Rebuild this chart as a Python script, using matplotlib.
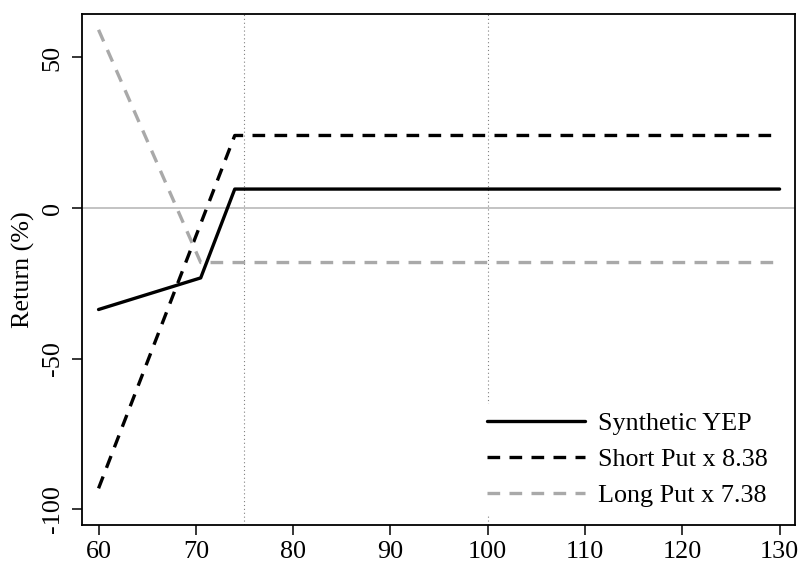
import matplotlib
matplotlib.use("Agg")
import matplotlib.pyplot as plt

# Data
price = [60, 70.5, 74, 130]
synthetic_yep = [-33.7, -23.2, 6.3, 6.3]
short_put = [-93.1, -5.2, 24.1, 24.1]
long_put = [59.2, -18.1, -18.1, -18.1]
labels = ["Synthetic YEP", "Short Put x 8.38", "Long Put x 7.38"]
x_ticks = [60, 70, 80, 90, 100, 110, 120, 130]
y_ticks = [50, 0, -50, -100]
y_tick_labels = ["50", "0", "-50", "-100"]
vlines = [75, 100]

plt.rcParams['font.family'] = ['Liberation Serif', 'DejaVu Serif']
FS = 18.8

fig = plt.figure(figsize=(8.04, 5.64), dpi=100)
ax = fig.add_axes([0.102, 0.069, 0.887, 0.907])

ax.axhline(0, color='#bebebe', lw=1.3, zorder=1)
for v in vlines:
    ax.axvline(v, color='#808080', lw=0.8, ls=(0, (1, 2.5)), zorder=1)

LW = 2.4
ax.plot(price, synthetic_yep, color='black', lw=LW, solid_capstyle='round',
        solid_joinstyle='round', label=labels[0], zorder=3)
ax.plot(price, short_put, color='black', lw=LW, dashes=(3.8, 2.8),
        dash_capstyle='butt', label=labels[1], zorder=3)
ax.plot(price, long_put, color='#a9a9a9', lw=LW, dashes=(3.8, 2.8),
        dash_capstyle='butt', label=labels[2], zorder=3)

ax.set_xlim(58.3, 131.6)
ax.set_ylim(-105.3, 64.6)
ax.set_xticks(x_ticks)
ax.set_yticks(y_ticks)
ax.set_yticklabels(y_tick_labels, rotation=90, va='center')
ax.tick_params(axis='both', labelsize=FS, length=7.2, width=1.1, pad=4, color='black')
ax.tick_params(axis='y', pad=6)
for s in ax.spines.values():
    s.set_linewidth(1.3)
ax.set_ylabel("Return (%)", fontsize=FS, labelpad=5)

leg = ax.legend(loc='lower right', bbox_to_anchor=(0.972, 0.02), fontsize=FS,
                frameon=True, fancybox=False, edgecolor='none', facecolor='white',
                framealpha=1, handlelength=3.75, handletextpad=0.5, labelspacing=0.49,
                borderpad=0.3, borderaxespad=0)
leg.set_zorder(5)

fig.savefig("out.png", dpi=100)
